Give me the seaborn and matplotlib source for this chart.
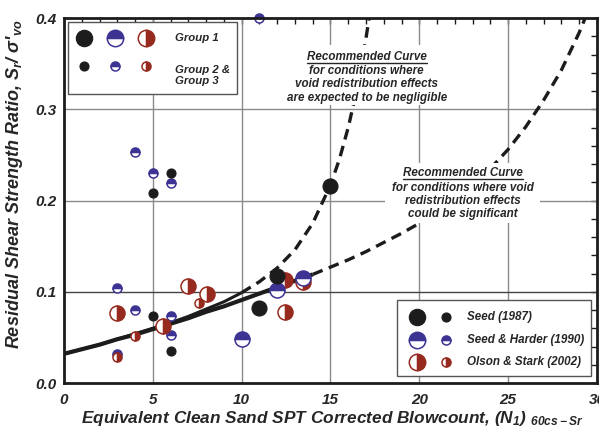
import matplotlib
matplotlib.use("Agg")
import matplotlib.pyplot as plt
import seaborn as sns
import pandas as pd
from matplotlib.patches import Rectangle
from matplotlib.lines import Line2D

# ---------------- data ----------------
seed_large_x = [11.0, 12.0, 15.0]
seed_large_y = [0.082, 0.117, 0.216]
seed_small_x = [5.0, 6.0, 5.0, 6.0]
seed_small_y = [0.208, 0.230, 0.073, 0.035]

sh_large_x = [10.0, 12.0, 13.45]
sh_large_y = [0.048, 0.102, 0.115]
sh_small_x = [3.0, 3.0, 4.0, 4.0, 5.0, 6.0, 6.0, 6.0, 11.0]
sh_small_y = [0.104, 0.032, 0.253, 0.080, 0.230, 0.219, 0.073, 0.053, 0.400]

os_large_x = [3.0, 5.6, 7.0, 8.05, 12.45, 12.45, 13.45]
os_large_y = [0.077, 0.062, 0.106, 0.098, 0.113, 0.078, 0.111]
os_small_x = [3.0, 4.0, 7.6]
os_small_y = [0.028, 0.052, 0.088]

# recommended curves
low_n = [0, 1, 2, 3, 4, 5, 6, 7, 8, 9, 10, 11, 12, 13, 14, 15, 16, 17, 18, 19,
         20, 21, 22, 23, 24, 25, 26, 27, 28, 29, 29.4]
low_sr = [0.032, 0.037, 0.042, 0.048, 0.053, 0.059, 0.065, 0.071, 0.078, 0.084,
          0.091, 0.098, 0.105, 0.112, 0.119, 0.127, 0.135, 0.144, 0.154, 0.164,
          0.175, 0.187, 0.201, 0.217, 0.235, 0.256, 0.281, 0.310, 0.343, 0.384, 0.403]
up_n = [0, 1, 2, 3, 4, 5, 6, 7, 8, 9, 10, 11, 12, 13, 14, 15, 15.5, 16, 16.5, 17, 17.2]
up_sr = [0.032, 0.037, 0.042, 0.048, 0.054, 0.060, 0.066, 0.073, 0.081, 0.089,
         0.099, 0.111, 0.126, 0.146, 0.175, 0.217, 0.245, 0.280, 0.323, 0.378, 0.403]
low_solid_end = 14
up_solid_end = 10

x_ticks = [0, 5, 10, 15, 20, 25, 30]
y_ticks = [0.0, 0.1, 0.2, 0.3, 0.4]

legend_labels = ["Seed (1987)", "Seed & Harder (1990)", "Olson & Stark (2002)"]
group_labels = ["Group 1", "Group 2 &\nGroup 3"]

BLACK = "#1c1c1c"
BLUE = "#3d3393"
RED = "#962a1e"
TXT = "#262626"

# ---------------- figure ----------------
sns.set_style("white")
plt.rcParams["font.family"] = ["Liberation Sans", "DejaVu Sans"]
plt.rcParams["mathtext.fontset"] = "custom"
plt.rcParams["mathtext.rm"] = "Liberation Sans:bold:italic"
plt.rcParams["mathtext.it"] = "Liberation Sans:bold:italic"
plt.rcParams["mathtext.bf"] = "Liberation Sans:bold:italic"
plt.rcParams["mathtext.default"] = "regular"

fig = plt.figure(figsize=(5.99, 4.32), dpi=100)
ax = fig.add_axes([0.1068, 0.1134, 0.8898, 0.8449])
ax.set_xlim(0, 30)
ax.set_ylim(0, 0.4)

# grid
for xv in [5, 10, 15, 20, 25]:
    ax.axvline(xv, color="#8a8a8a", lw=1.0, zorder=1)
for yv in [0.2, 0.3]:
    ax.axhline(yv, color="#8a8a8a", lw=1.0, zorder=1)
ax.axhline(0.1, color="#444444", lw=1.0, zorder=1)

# curves via seaborn
def seg(xs, ys, lo, hi):
    xx = [a for a in xs if lo <= a <= hi]
    yy = [b for a, b in zip(xs, ys) if lo <= a <= hi]
    return pd.DataFrame({"n": xx, "sr": yy})

dash = (0, (3.2, 2.0))
sns.lineplot(data=seg(low_n, low_sr, 0, low_solid_end), x="n", y="sr", ax=ax,
             color=BLACK, lw=3.0, estimator=None, sort=True, zorder=3,
             solid_capstyle="butt")
sns.lineplot(data=seg(low_n, low_sr, low_solid_end, 100), x="n", y="sr", ax=ax,
             color=BLACK, lw=2.4, estimator=None, sort=True, zorder=3,
             linestyle=dash)
sns.lineplot(data=seg(up_n, up_sr, 0, up_solid_end), x="n", y="sr", ax=ax,
             color=BLACK, lw=2.2, estimator=None, sort=True, zorder=3,
             solid_capstyle="butt")
sns.lineplot(data=seg(up_n, up_sr, up_solid_end, 100), x="n", y="sr", ax=ax,
             color=BLACK, lw=2.4, estimator=None, sort=True, zorder=3,
             linestyle=dash)

# markers
BIG = 10.8
SMALL = 6.5
def blue_pts(xs, ys, ms, z, transform=None):
    kw = {} if transform is None else {"transform": transform}
    ax.plot(xs, ys, ls="none", marker="o", ms=ms, fillstyle="top",
            mfc=BLUE, mfcalt="white", mec=BLUE, mew=1.1, zorder=z, clip_on=False, **kw)
def red_pts(xs, ys, ms, z, transform=None):
    kw = {} if transform is None else {"transform": transform}
    ax.plot(xs, ys, ls="none", marker="o", ms=ms, fillstyle="right",
            mfc=RED, mfcalt="white", mec=RED, mew=1.1, zorder=z, clip_on=False, **kw)
def black_pts(xs, ys, ms, z, transform=None):
    kw = {} if transform is None else {"transform": transform}
    ax.plot(xs, ys, ls="none", marker="o", ms=ms, mfc=BLACK, mec=BLACK,
            mew=0.8, zorder=z, clip_on=False, **kw)

blue_pts(sh_small_x, sh_small_y, SMALL, 5)
red_pts(os_large_x, os_large_y, BIG, 5)
red_pts(os_small_x, os_small_y, SMALL, 6)
blue_pts(sh_large_x, sh_large_y, BIG, 7)
black_pts(seed_small_x, seed_small_y, SMALL, 8)
black_pts(seed_large_x, seed_large_y, BIG, 8)

# axes styling
for s in ax.spines.values():
    s.set_linewidth(2.0)
    s.set_color(BLACK)
    s.set_zorder(10)
ax.set_xticks(x_ticks)
ax.set_yticks(y_ticks)
ax.set_xticks(range(0, 31), minor=True)
ax.set_yticks([i * 0.02 for i in range(21)], minor=True)
ax.set_xticklabels([str(v) for v in x_ticks])
ax.set_yticklabels(["%.1f" % v for v in y_ticks])
ax.tick_params(which="both", direction="in", length=4, width=1.0, color=BLACK,
               top=True, right=True)
ax.tick_params(axis="x", pad=7)
ax.tick_params(axis="y", pad=5)
for lab in ax.get_xticklabels() + ax.get_yticklabels():
    lab.set_fontweight("bold")
    lab.set_fontstyle("italic")
    lab.set_fontsize(11)
    lab.set_color(TXT)
ax.grid(False)

ax.set_xlabel("Equivalent Clean Sand SPT Corrected Blowcount, (N$_1$) $_{60cs-Sr}$",
              fontsize=12.4, fontweight="bold", fontstyle="italic", color=TXT)
ax.set_ylabel("Residual Shear Strength Ratio, S$_r$/ σ'$_{vo}$",
              fontsize=13, fontweight="bold", fontstyle="italic", color=TXT)
ax.xaxis.set_label_coords(0.503, -0.070)
ax.yaxis.set_label_coords(-0.073, 0.545)

tfont = dict(fontsize=8.4, fontweight="bold", fontstyle="italic", color=TXT)

# annotation boxes (white background hides grid / curve)
def note(cx, hy, by, box, lines):
    x0, y0, x1, y1 = box
    ax.add_patch(Rectangle((x0, y0), x1 - x0, y1 - y0, transform=ax.transAxes,
                           facecolor="white", edgecolor="none", zorder=4))
    h = ax.text(cx, hy, "Recommended Curve", transform=ax.transAxes, ha="center",
                va="center", zorder=9, **tfont)
    ax.text(cx, by, lines, transform=ax.transAxes, ha="center", va="center",
            linespacing=1.12, zorder=9, **tfont)
    return h

h1 = note(0.568, 0.893, 0.818, (0.418, 0.762, 0.724, 0.926),
          "for conditions where\nvoid redistribution effects\nare expected to be negligible")
h2 = note(0.749, 0.575, 0.499, (0.602, 0.438, 0.893, 0.603),
          "for conditions where void\nredistribution effects\ncould be significant")

# legend box 1 (groups)
ax.add_patch(Rectangle((0.0075, 0.792), 0.3171, 0.197, transform=ax.transAxes,
                       facecolor="white", edgecolor="#555555", lw=1.0, zorder=4))
black_pts([0.0375], [0.945], BIG + 1, 9, ax.transAxes)
blue_pts([0.0957], [0.945], BIG + 1, 9, ax.transAxes)
red_pts([0.1538], [0.945], BIG + 1, 9, ax.transAxes)
black_pts([0.0375], [0.868], SMALL, 9, ax.transAxes)
blue_pts([0.0957], [0.868], SMALL, 9, ax.transAxes)
red_pts([0.1538], [0.868], SMALL, 9, ax.transAxes)
gfont = dict(fontsize=8.2, fontweight="bold", fontstyle="italic", color=TXT)
ax.text(0.208, 0.945, group_labels[0], transform=ax.transAxes, ha="left",
        va="center", zorder=9, **gfont)
ax.text(0.208, 0.842, group_labels[1], transform=ax.transAxes, ha="left",
        va="center", linespacing=1.2, zorder=9, **gfont)

# legend box 2 (sources)
ax.add_patch(Rectangle((0.625, 0.019), 0.364, 0.208, transform=ax.transAxes,
                       facecolor="white", edgecolor="#555555", lw=1.0, zorder=4))
rows = [0.181, 0.118, 0.058]
black_pts([0.662], [rows[0]], BIG + 1, 9, ax.transAxes)
black_pts([0.717], [rows[0]], SMALL, 9, ax.transAxes)
blue_pts([0.662], [rows[1]], BIG + 1, 9, ax.transAxes)
blue_pts([0.717], [rows[1]], SMALL, 9, ax.transAxes)
red_pts([0.662], [rows[2]], BIG + 1, 9, ax.transAxes)
red_pts([0.717], [rows[2]], SMALL, 9, ax.transAxes)
for r, lab in zip(rows, legend_labels):
    ax.text(0.756, r, lab, transform=ax.transAxes, ha="left", va="center",
            zorder=9, **tfont)

# underline the headings
fig.canvas.draw()
r = fig.canvas.get_renderer()
for h in (h1, h2):
    bb = h.get_window_extent(r)
    fx0, fy0 = fig.transFigure.inverted().transform((bb.x0, bb.y0 + 0.5))
    fx1, _ = fig.transFigure.inverted().transform((bb.x1, bb.y0))
    fig.add_artist(Line2D([fx0, fx1], [fy0, fy0], color=TXT, lw=1.0, zorder=11))

fig.savefig("out.png", dpi=100)
